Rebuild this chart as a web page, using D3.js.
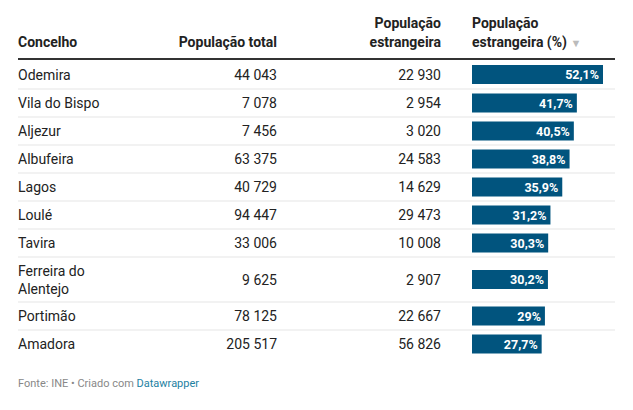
<!DOCTYPE html>
<html><head><meta charset="utf-8">
<script src="https://cdn.jsdelivr.net/npm/d3@7"></script>
<style>body{margin:0;background:#fff;font-family:Roboto,sans-serif}</style>
</head><body><svg id="c" width="633" height="410"></svg>
<script>
const concelhos = ["Odemira","Vila do Bispo","Aljezur","Albufeira","Lagos","Loulé","Tavira","Ferreira do|Alentejo","Portimão","Amadora"];
const popTotal = ["44 043","7 078","7 456","63 375","40 729","94 447","33 006","9 625","78 125","205 517"];
const popEstr = ["22 930","2 954","3 020","24 583","14 629","29 473","10 008","2 907","22 667","56 826"];
const pct = [52.1,41.7,40.5,38.8,35.9,31.2,30.3,30.2,29,27.7];
const rowH = [29,28,28,28,28,28,28,45,28,28];

const svg = d3.select("#c");
const x = d3.scaleLinear().domain([0,52.1]).range([472,603]);
const fmt = v => String(v).replace(".", ",") + "%";

// header
const hdr = svg.append("g").attr("font-weight",700).attr("font-size",14).attr("fill","#222");
hdr.append("text").attr("x",18).attr("y",47).text("Concelho");
hdr.append("text").attr("x",277).attr("y",47).attr("text-anchor","end").text("População total");
hdr.append("text").attr("x",441).attr("y",28).attr("text-anchor","end").text("População");
hdr.append("text").attr("x",441).attr("y",47).attr("text-anchor","end").text("estrangeira");
hdr.append("text").attr("x",472).attr("y",28).text("População");
const h2 = hdr.append("text").attr("x",472).attr("y",47).text("estrangeira (%) ");
h2.append("tspan").attr("fill","#bbb").attr("font-size",11).text("▼");
svg.append("rect").attr("x",18).attr("y",58).attr("width",597).attr("height",2).attr("fill","#333");

let y = 60;
concelhos.forEach((c,i) => {
  const h = rowH[i], cy = y + h/2;
  const g = svg.append("g").attr("font-size",14).attr("fill","#222");
  const lines = c.split("|");
  lines.forEach((l,j) => g.append("text").attr("x",18)
    .attr("y", cy + 5 + (j - (lines.length-1)/2)*18).text(l));
  g.append("text").attr("x",277).attr("y",cy+5).attr("text-anchor","end").text(popTotal[i]);
  g.append("text").attr("x",441).attr("y",cy+5).attr("text-anchor","end").text(popEstr[i]);
  svg.append("rect").attr("x",x(0)).attr("y",cy-9.5).attr("width",x(pct[i])-x(0)).attr("height",19).attr("fill","#01547e");
  svg.append("text").attr("x",x(pct[i])-4).attr("y",cy+4.5).attr("text-anchor","end")
    .attr("font-size",12.5).attr("font-weight",700).attr("fill","#fff").text(fmt(pct[i]));
  y += h;
  if (i < concelhos.length-1)
    svg.append("rect").attr("x",18).attr("y",y-0.5).attr("width",597).attr("height",1).attr("fill","#e6e6e6");
});

const f = svg.append("text").attr("x",18).attr("y",387).attr("font-size",11).attr("fill","#888");
f.append("tspan").text("Fonte: INE • Criado com ");
f.append("tspan").attr("fill","#1d81a2").text("Datawrapper");
</script></body></html>
